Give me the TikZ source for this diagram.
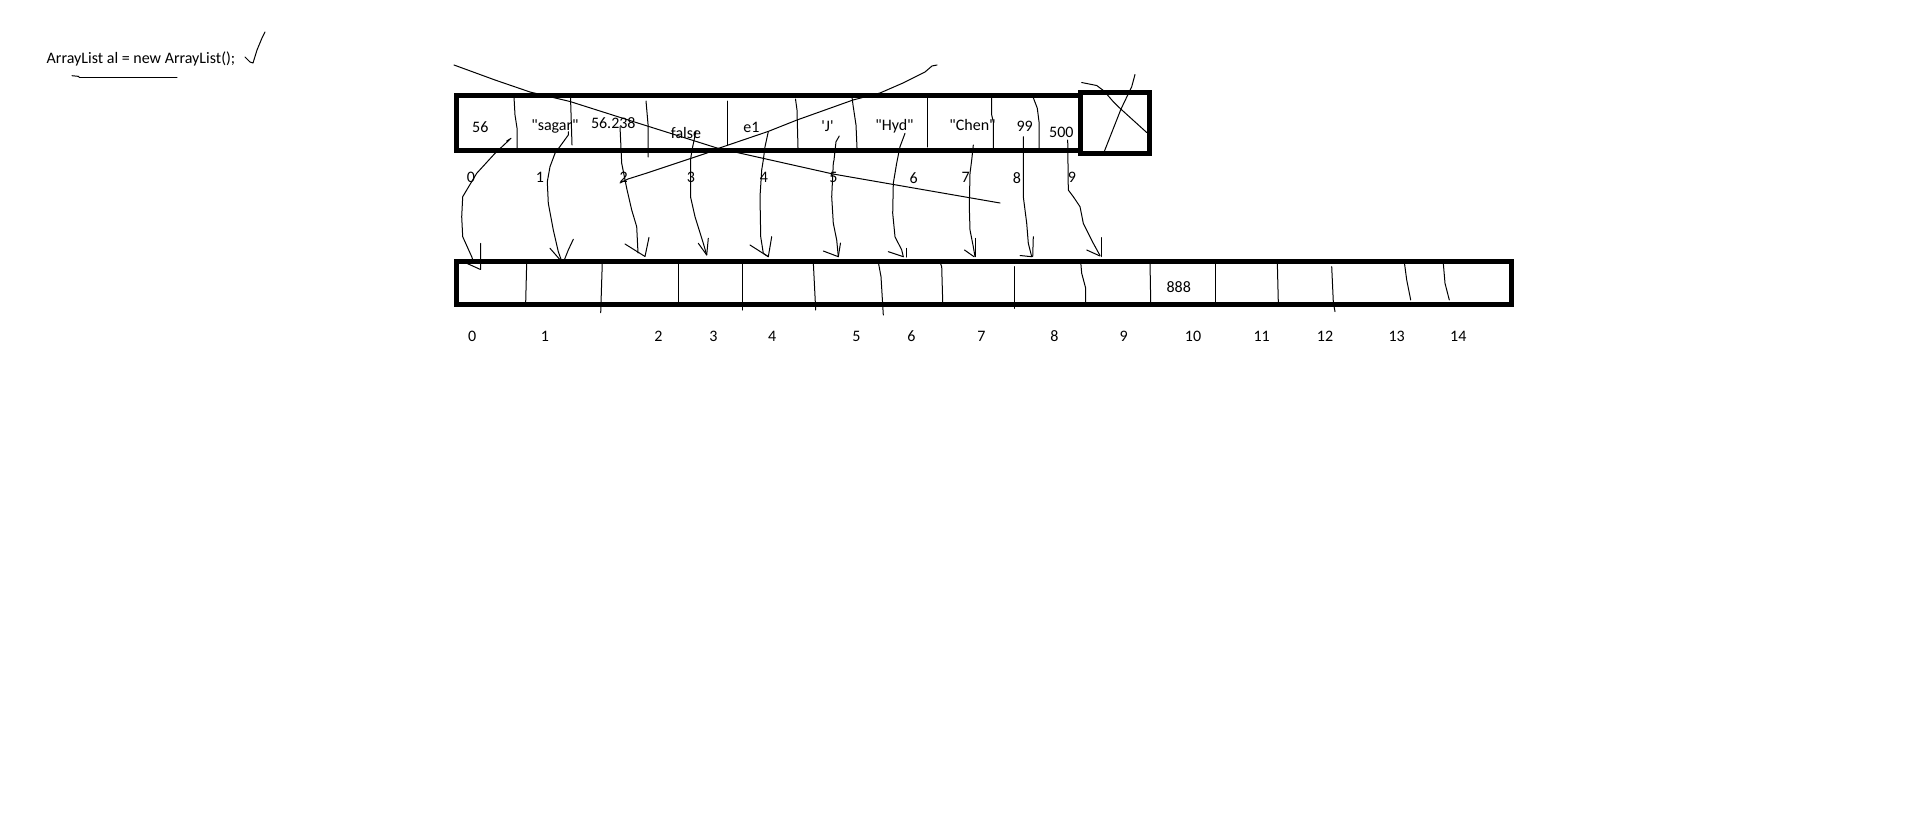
\documentclass[tikz,border=0pt]{standalone}
\usepackage{fontspec}
\setmainfont{Carlito}[Ligatures=TeXOff]
\begin{document}
\begin{tikzpicture}[x=1pt,y=-1pt,
  pen/.style={line width=1pt,line cap=round,line join=round,black},
  boxline/.style={line width=5pt,black},
  lbl/.style={font=\fontsize{16}{19}\selectfont,inner sep=0pt,anchor=center}]
\useasboundingbox (0,0) rectangle (1913,825);
\fill[white] (0,0) rectangle (1913,825);

% title
\node[lbl] (title) at (141,59) {ArrayList al = new ArrayList();};
\draw[pen] (72,75.7) -- (79,76.4);
\draw[pen] (79,77.3) -- (177,77.3);
\draw[pen] (245,57) -- (250,62) -- (253,63) -- (257,50) -- (262,38) -- (265,32);

% top array
\draw[boxline] (456.5,95) rectangle (1080.5,150);
\draw[boxline] (1080.5,92) rectangle (1149.5,153.5);
\draw[pen] (514,97) -- (515,115) -- (517,128) -- (517,148);
\draw[pen] (570.5,97) -- (572,145);
\draw[pen] (646,101) -- (648,124) -- (648,157);
\draw[pen] (727.3,101) -- (727.3,145);
\draw[pen] (795.5,99) -- (797,110) -- (798,148);
\draw[pen] (852,97) -- (853,105) -- (856,125) -- (857,148);
\draw[pen] (927.3,97) -- (927.3,147);
\draw[pen] (991.7,97) -- (991.7,115) -- (993.3,122) -- (993.3,148);
\draw[pen] (1033.3,97.7) -- (1037.3,108.3) -- (1039,121.7) -- (1039,148);

% X in the extra box
\draw[pen] (1081.7,82.5) -- (1096.7,85.5) -- (1104,91) -- (1113.3,101.7) -- (1120,108.3) -- (1146.7,132.5);
\draw[pen] (1135,74.5) -- (1131.7,86.7) -- (1121,109) -- (1104.2,151.7);

% top values
\node[lbl] (v0) at (480.3,127.5) {56};
\node[lbl] (v1) at (555,126.7) {"sagar"};
\node[lbl] (v2) at (613.3,122.7) {56.238};
\node[lbl] (v3) at (686,133.3) {false};
\node[lbl] (v4) at (751.5,127.7) {e1};
\node[lbl] (v5) at (827.5,126) {'J'};
\node[lbl] (v6) at (894.5,126.7) {"Hyd"};
\node[lbl] (v7) at (972.5,125) {"Chen"};
\node[lbl] (v8) at (1024.7,126.7) {99};
\node[lbl] (v9) at (1061.3,132.3) {500};

% top indices
\foreach \i/\x in {0/470.8,1/540,2/623.7,3/690.8,4/764,5/833.3,6/913.7,7/965.7,8/1017,9/1072}
  \node[lbl] (ti\i) at (\x,177.7) {\i};

% crossing lines
\draw[pen] (454,65) -- (495,80) -- (530,92) -- (570,101.5) -- (633,121.5) -- (717,148) -- (833,174) -- (1000,203);
\draw[pen] (620,183) -- (628,179) -- (647,173) -- (707,153) -- (718,148.5) -- (768,131.5) -- (797,120) -- (853,100) -- (880,93) -- (903,83) -- (925,72) -- (932,66) -- (937,65);

% bottom array
\draw[boxline] (456,261) rectangle (1511,304);
\draw[pen] (526.7,262) -- (525.7,302);
\draw[pen] (602.3,262) -- (600.7,312.7);
\draw[pen] (678.3,262) -- (678.3,302);
\draw[pen] (742.3,262) -- (742.3,310);
\draw[pen] (813.3,262) -- (815.7,310);
\draw[pen] (878.3,262) -- (881,276.7) -- (883.3,315);
\draw[pen] (940,262) -- (941.7,266.7) -- (942.7,302);
\draw[pen] (1014.3,266.7) -- (1014.3,308.3);
\draw[pen] (1080.7,262) -- (1081.7,273.3) -- (1085.7,288.3) -- (1085.7,302);
\draw[pen] (1150,262) -- (1150.7,302);
\draw[pen] (1215.7,262) -- (1215.7,302);
\draw[pen] (1277.3,262) -- (1278.3,302);
\draw[pen] (1331.7,266.7) -- (1333.3,302) -- (1335,311.7);
\draw[pen] (1404.3,262) -- (1406.7,280) -- (1410.7,300);
\draw[pen] (1443.3,263.3) -- (1445,283.3) -- (1449.3,300);
\node[lbl] (b888) at (1178.7,287.3) {888};

% bottom indices
\foreach \i/\x in {0/472.2,1/545,2/658.3,3/713.3,4/772.2,5/856.3,6/911.3,7/981.3,8/1054.5,9/1123.7,10/1193,11/1261.7,12/1325,13/1396.7,14/1458.3}
  \node[lbl] (bi\i) at (\x,336) {\i};

% arrows from top cells to bottom cells
\coordinate (s0) at (506.7,141); \coordinate (t0) at (480.5,269.5);
\draw[pen] (s0) -- (511,138.3) -- (495,153.3) -- (476.7,173.3) -- (462.7,196.7) -- (461.7,216.7) -- (462.7,236.7) -- (471.7,256.7) -- (474,263);
\draw[pen] (466.7,263.3) -- (t0) -- (480.7,243.3);

\coordinate (s1) at (568.3,131.7); \coordinate (t1) at (562,262);
\draw[pen] (s1) -- (568.3,135) -- (555,153.3) -- (550,166.7) -- (547.3,181.7) -- (548.3,203.3) -- (553.3,230) -- (558.3,251.7) -- (t1);
\draw[pen] (550,248.3) -- (t1);
\draw[pen] (573.3,239.3) -- (568.3,250) -- (563.5,262);

\coordinate (s2) at (620,126.7); \coordinate (t2) at (645,256.5);
\draw[pen] (s2) -- (621.7,163.3) -- (626.7,188.3) -- (631.7,210) -- (636.7,226.7) -- (638,253);
\draw[pen] (625,244) -- (t2) -- (649,237.3);

\coordinate (s3) at (696,131); \coordinate (t3) at (706.7,255);
\draw[pen] (s3) -- (692,150) -- (690.5,160) -- (690.5,196.7) -- (695,216.7) -- (703.3,243.3) -- (t3);
\draw[pen] (698.3,243.3) -- (t3) -- (708.3,238.3);

\coordinate (s4) at (768.3,131.7); \coordinate (t4) at (768.3,256.7);
\draw[pen] (s4) -- (765,146.7) -- (763.3,160) -- (761.7,170) -- (760,196.7) -- (760.7,236.7) -- (763.3,253.3) -- (t4);
\draw[pen] (750,245) -- (t4) -- (771.7,236.7);

\coordinate (s5) at (839.3,136); \coordinate (t5) at (838.3,256.7);
\draw[pen] (s5) -- (836,141.7) -- (834,160) -- (833.3,163.3) -- (831.7,196.7) -- (833.3,223.3) -- (836.7,240) -- (t5);
\draw[pen] (823.3,251) -- (t5) -- (840.5,243);

\coordinate (s6) at (905,133.3); \coordinate (t6) at (903.3,256.7);
\draw[pen] (s6) -- (900,146.7) -- (896.7,163) -- (893.3,183.3) -- (892.7,213.3) -- (895,236.7) -- (901.7,250) -- (t6);
\draw[pen] (888.3,251.7) -- (t6);
\draw[pen] (906.3,248.3) -- (906.3,257);

\coordinate (s7) at (973.3,145); \coordinate (t7) at (975,256.7);
\draw[pen] (s7) -- (971.7,160) -- (970,173.3) -- (969.3,206.7) -- (970,230) -- (973.3,246.7) -- (t7);
\draw[pen] (964.5,250) -- (974,256.7);
\draw[pen] (975.8,238.3) -- (975.8,256.7);

\coordinate (s8) at (1023.3,136.7); \coordinate (t8) at (1031.7,256.7);
\draw[pen] (s8) -- (1023.3,196.7) -- (1026.7,223.3) -- (1028.3,243.3) -- (t8);
\draw[pen] (1020,255.5) -- (t8);
\draw[pen] (1033.3,236.7) -- (1032.7,256.7);

\coordinate (s9) at (1067.7,140); \coordinate (t9) at (1100,255.5);
\draw[pen] (s9) -- (1068.3,190) -- (1073.3,196.7) -- (1080,206.7) -- (1083.3,223.3) -- (1090,236.7) -- (1093.3,243.3) -- (t9);
\draw[pen] (1086.7,250) -- (1100,256);
\draw[pen] (1101.7,237.5) -- (1101.7,256.5);
\end{tikzpicture}
\end{document}
